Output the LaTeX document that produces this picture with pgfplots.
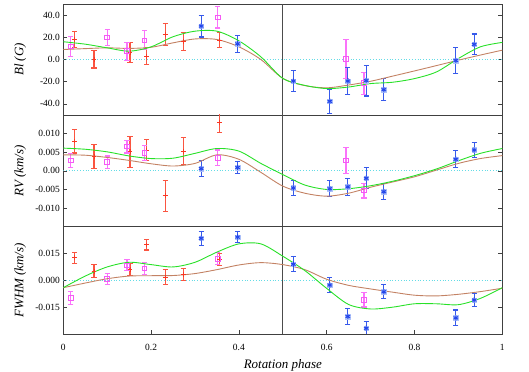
\documentclass[border=0pt]{standalone}
\usepackage{fontspec}
\setmainfont{Liberation Serif}
\usepackage{pgfplots}
\pgfplotsset{compat=1.18}
\usepackage{pgfplotstable}

\definecolor{ptred}{RGB}{250,55,35}
\definecolor{ebred}{RGB}{250,85,65}
\definecolor{ptmag}{RGB}{245,90,245}
\definecolor{ebmag}{RGB}{250,115,250}
\definecolor{ptblue}{RGB}{35,70,235}
\definecolor{ebblue}{RGB}{55,90,235}
\definecolor{haloblue}{RGB}{175,195,250}
\definecolor{fitgreen}{RGB}{40,225,40}
\definecolor{fitbrown}{RGB}{195,130,100}
\definecolor{zerocyan}{RGB}{100,220,230}

% phase, Bl (G), RV (km/s), FWHM (km/s) with errors
\pgfplotstableread{
ph    bl    ble   rv      rve     fw      fwe
0.026 18.1  7.3   0.0080  0.0032  0.0127  0.0031
0.070 0.3   8.0   0.0039  0.0032  0.0051  0.0036
0.152 6.3   9.0   0.0051  0.0041  0.0062  0.0034
0.190 3.0   7.5   0.0055  0.0028  0.0198  0.0028
0.232 22.6  9.7   -0.0067 0.0041  0.0018  0.0041
0.273 16.0  8.3   0.0053  0.0036  0.0031  0.0034
0.356 17.5  6.5   0.0129  0.0027  0.0116  0.0032
}\redpts

\pgfplotstableread{
ph    bl    ble   rv      rve     fw      fwe
0.017 11.8  8.7   0.0028  0.0019  -0.0099 0.0035
0.100 19.9  7.4   0.0023  0.0017  0.0007  0.0031
0.145 7.5   8.1   0.0065  0.0017  0.0084  0.0031
0.185 17.2  8.6   0.0048  0.0019  0.0066  0.0032
0.352 38.0  9.6   0.0035  0.0021  0.0121  0.0033
0.644 0.3   17.8  0.0028  0.0034  nan     0
0.685 -21.4 10.0  -0.0053 0.0020  -0.0109 0.0040
}\magpts

\pgfplotstableread{
ph    bl    ble   rv      rve     fw      fwe
0.314 30.1  9.8   0.0006  0.0022  0.0235  0.0039
0.397 14.1  7.7   0.0009  0.0016  0.0242  0.0030
0.524 -19.4 9.8   -0.0046 0.0020  0.0090  0.0041
0.607 -37.7 10.7  -0.0048 0.0022  -0.0026 0.0041
0.648 -19.4 11.8  -0.0043 0.0022  -0.0202 0.0043
0.690 -19.0 13.9  -0.0020 0.0028  -0.0268 0.0040
0.730 -27.2 10.0  -0.0056 0.0021  -0.0064 0.0040
0.894 -0.9  11.6  0.0031  0.0023  -0.0210 0.0044
0.936 13.6  9.4   0.0056  0.0019  -0.0110 0.0036
}\bluepts

% model curves (green, brown)
\pgfplotstableread{
ph   gbl   bbl   grv     brv     gfw     bfw
0.00 16.0  9.0   0.0061  0.0043  -0.0041 -0.0041
0.05 13.8  9.8   0.0058  0.0042  0.0024  -0.0015
0.10 10.5  10.5  0.0051  0.0036  0.0075  0.0009
0.15 7.5   10.0  0.0040  0.0028  0.0101  0.0024
0.20 11.4  11.0  0.0033  0.0019  0.0088  0.0026
0.25 20.5  15.0  0.0034  0.0013  0.0075  0.0027
0.30 25.5  18.5  0.0047  0.0020  0.0101  0.0038
0.35 25.5  18.0  0.0060  0.0043  0.0158  0.0060
0.40 16.8  11.4  0.0053  0.0031  0.0204  0.0086
0.45 2.4   0.0   0.0020  -0.0004 0.0204  0.0099
0.50 -17.0 -17.0 -0.0010 -0.0041 0.0135  0.0088
0.55 -23.3 -23.5 -0.0038 -0.0060 0.0055  0.0060
0.60 -26.2 -25.5 -0.0050 -0.0068 -0.0045 0.0006
0.65 -24.8 -23.0 -0.0048 -0.0060 -0.0135 -0.0028
0.70 -21.7 -19.6 -0.0040 -0.0044 -0.0160 -0.0048
0.75 -20.5 -15.0 -0.0028 -0.0030 -0.0150 -0.0066
0.80 -17.2 -10.3 -0.0013 -0.0016 -0.0131 -0.0083
0.85 -11.2 -5.5  0.0005  0.0002  -0.0131 -0.0087
0.90 0.9   -0.6  0.0027  0.0020  -0.0136 -0.0078
0.95 11.4  4.0   0.0047  0.0033  -0.0101 -0.0063
1.00 15.4  8.4   0.0060  0.0041  -0.0041 -0.0044
}\fits

\pgfplotsset{
  panel/.style={
    scale only axis, width=439bp,
    xmin=0, xmax=1, clip=true,
    scaled y ticks=false,
    axis line style={black!75, line width=0.8pt},
    tick align=inside, major tick length=4bp,
    tick style={black!75, line width=0.6pt},
    ticklabel style={font=\fontsize{9.5}{11}\selectfont},
    ylabel style={font=\fontsize{13}{15}\selectfont\itshape,
                  at={(axis description cs:-0.098,0.5)}, anchor=center},
    xtick=\empty,
  },
  redp/.style={only marks, color=ptred, mark=+, mark size=2.4bp, line width=1pt,
    error bars/.cd, y dir=both, y explicit,
    error bar style={color=ebred, line width=1.1pt},
    error mark options={color=ebred, line width=1.1pt, mark size=2.6bp, rotate=90}},
  magp/.style={only marks, color=ptmag, mark=square, mark size=2.3bp, line width=1pt,
    error bars/.cd, y dir=both, y explicit,
    error bar style={color=ebmag, line width=1.1pt},
    error mark options={color=ebmag, line width=1.1pt, mark size=2.6bp, rotate=90}},
  bluep/.style={only marks, color=ptblue, mark=asterisk, mark size=2.6bp, line width=1pt,
    error bars/.cd, y dir=both, y explicit,
    error bar style={color=ebblue, line width=1.1pt},
    error mark options={color=ebblue, line width=1.1pt, mark size=2.6bp, rotate=90}},
  halo/.style={only marks, mark=square*, mark size=2.3bp,
    mark options={draw=haloblue, fill=haloblue}},
  gfit/.style={fitgreen, line width=0.9pt, smooth, mark=none},
  bfit/.style={fitbrown, line width=0.9pt, smooth, mark=none},
  zline/.style={zerocyan, dotted, line width=0.8pt},
  vline/.style={black!70, line width=0.7pt},
}

\begin{document}
\begin{tikzpicture}
\useasboundingbox (0,0) rectangle (529bp,372bp);

% Bl panel
\begin{axis}[panel, at={(63.3bp,257bp)}, anchor=south west, height=111bp,
  ymin=-50, ymax=50,
  ytick={-40,-20,0,20,40}, yticklabels={-40.0,-20.0,0.0,20.0,40.0},
  ylabel={Bl (G)}]
  \addplot[zline] coordinates {(0,0) (1,0)};
  \addplot[vline] coordinates {(0.5,-50) (0.5,50)};
  \addplot[redp] table[x=ph, y=bl, y error=ble] {\redpts};
  \addplot[magp] table[x=ph, y=bl, y error=ble] {\magpts};
  \addplot[halo] table[x=ph, y=bl] {\bluepts};
  \addplot[bluep] table[x=ph, y=bl, y error=ble] {\bluepts};
  \addplot[bfit] table[x=ph, y=bbl] {\fits};
  \addplot[gfit] table[x=ph, y=gbl] {\fits};
\end{axis}

% RV panel
\begin{axis}[panel, at={(63.3bp,145.3bp)}, anchor=south west, height=111.7bp,
  ymin=-0.015, ymax=0.015,
  ytick={-0.01,-0.005,0,0.005,0.01}, yticklabels={-0.010,-0.005,0.00,0.005,0.010},
  ylabel={RV (km/s)}]
  \addplot[zline] coordinates {(0,0) (1,0)};
  \addplot[vline] coordinates {(0.5,-0.015) (0.5,0.015)};
  \addplot[redp] table[x=ph, y=rv, y error=rve] {\redpts};
  \addplot[magp] table[x=ph, y=rv, y error=rve] {\magpts};
  \addplot[halo] table[x=ph, y=rv] {\bluepts};
  \addplot[bluep] table[x=ph, y=rv, y error=rve] {\bluepts};
  \addplot[bfit] table[x=ph, y=brv] {\fits};
  \addplot[gfit] table[x=ph, y=grv] {\fits};
\end{axis}

% FWHM panel
\begin{axis}[panel, at={(63.3bp,38bp)}, anchor=south west, height=107.3bp,
  ymin=-0.03, ymax=0.03,
  ytick={-0.015,0,0.015}, yticklabels={-0.015,0.000,0.015},
  xtick={0,0.2,0.4,0.6,0.8,1}, xticklabels={0,0.2,0.4,0.6,0.8,1},
  xtick pos=bottom,
  xticklabel style={yshift=-7bp},
  xlabel={Rotation phase},
  xlabel style={font=\fontsize{13}{15}\selectfont\itshape,
                at={(axis description cs:0.5,0)}, anchor=center, yshift=-31.7bp},
  ylabel={FWHM (km/s)}]
  \addplot[zline] coordinates {(0,0) (1,0)};
  \addplot[vline] coordinates {(0.5,-0.03) (0.5,0.03)};
  \addplot[redp] table[x=ph, y=fw, y error=fwe] {\redpts};
  \addplot[magp] table[x=ph, y=fw, y error=fwe] {\magpts};
  \addplot[halo] table[x=ph, y=fw] {\bluepts};
  \addplot[bluep] table[x=ph, y=fw, y error=fwe] {\bluepts};
  \addplot[bfit] table[x=ph, y=bfw] {\fits};
  \addplot[gfit] table[x=ph, y=gfw] {\fits};
\end{axis}
\end{tikzpicture}
\end{document}
